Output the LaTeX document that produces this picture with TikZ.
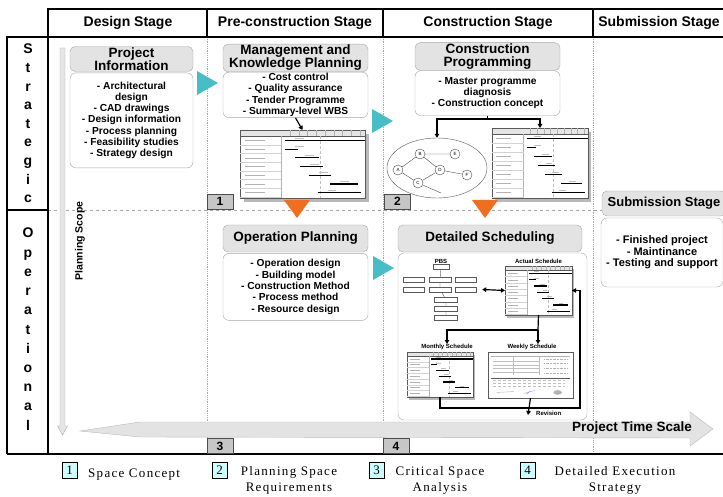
\documentclass[tikz,border=0pt]{standalone}
\usepackage{fontspec}
\setmainfont{Liberation Sans}
\newfontfamily\keyfont[LetterSpace=10]{Liberation Serif}
\usetikzlibrary{arrows.meta,positioning,shapes}
\definecolor{tealtri}{RGB}{70,190,200}
\definecolor{orangetri}{RGB}{240,110,30}
\definecolor{keyfill}{RGB}{205,255,255}

\tikzset{
  gantt/.pic={
    \fill[gray!55] (0.035,0.06) rectangle (1.035,1.06);
    \draw[gray!70!black,fill=white] (0,0) rectangle (1,1);
    \draw[gray!70!black,fill=gray!20] (0,0) rectangle (1,0.09);
    \draw[gray!60] (0.33,0.09) -- (0.33,1);
    \foreach \t in {0.40,0.47,...,0.97} \draw[gray!60] (\t,0) -- (\t,0.09);
    \draw[gray!50,densely dashed] (0.64,0.09) -- (0.64,1);
    \foreach \r/\a/\b in {1/0.36/1,2/0.36/0.46,3/0.44/0.63,4/0.48/0.66,5/0.55/0.73,6/0.72/0.94,7/0.62/0.97}{
      \pgfmathsetmacro\yy{0.09+0.128*(\r-0.5)}
      \draw[gray!35] (0,\yy+0.064) -- (0.33,\yy+0.064);
      \draw[gray!60,line width=0.6pt] (0.04,\yy) -- (0.2,\yy);
      \draw[line width=1.2pt] (\a,\yy) -- (\b,\yy);
      \draw[gray!50] ({\a+0.08},\yy-0.04) -- ({\a+0.15},\yy-0.04);
    }
    \coordinate (-n) at (0.5,0);
    \coordinate (-s) at (0.5,1);
    \coordinate (-w) at (0,0.5);
    \coordinate (-e) at (1,0.5);
  },
  sketch/.pic={
    \draw[gray!70!black,fill=white] (0,0) rectangle (1,1);
    \draw[gray!60] (0.04,0.1) -- (0.96,0.1);
    \foreach \yy in {0.2,0.28,0.36,0.44} \draw[gray!50] (0.06,\yy) -- (0.6,\yy);
    \draw[gray!50] (0.3,0.1) -- (0.3,0.5) (0.6,0.1) -- (0.6,0.5);
    \foreach \yy in {0.15,0.25,0.35,0.45} \draw[gray!60,densely dotted] (0.66,\yy) -- (0.94,\yy);
    \draw[gray!70!black] (0.04,0.56) -- (0.96,0.56);
    \foreach \yy in {0.62,0.68,0.74} \draw[gray!50,densely dashed] (0.06,\yy) -- (0.9,\yy);
    \draw[gray!60] (0.1,0.88) -- (0.3,0.86) (0.42,0.9) -- (0.55,0.84);
    \draw[blue!50] (0.45,0.92) -- (0.5,0.85);
    \fill[gray!60] (0.82,0.88) circle (0.05);
    \coordinate (-n) at (0.5,0);
    \coordinate (-s) at (0.5,1);
  },
  nextarr/.pic={\fill[tealtri] (-10,-12) -- (11,0) -- (-10,12) -- cycle;},
  downarr/.pic={\fill[orangetri] (-13,-9) -- (13,-9) -- (0,9) -- cycle;}
}

\begin{document}
\begin{tikzpicture}[
  x=1pt, y=-1pt,
  frame/.style={line width=1.6pt},
  stage/.style={font=\fontsize{14}{16}\selectfont\bfseries},
  side/.style={anchor=base,font=\fontsize{14}{16}\selectfont\bfseries},
  ttl/.style={rectangle,rounded corners=5pt,draw=gray!70,fill=gray!22,align=center,inner sep=1pt,
    font=\fontsize{13.5}{13}\selectfont\bfseries},
  body/.style={rectangle,rounded corners=6pt,draw=gray!70,fill=white,align=center,inner sep=1pt,
    font=\fontsize{10.2}{11.3}\selectfont\bfseries},
  numbox/.style={rectangle,draw=gray!60!black,fill=gray!45,minimum width=26pt,minimum height=15pt,
    inner sep=0pt,font=\fontsize{12}{12}\selectfont\bfseries},
  keybox/.style={rectangle,draw=black,fill=keyfill,minimum width=15pt,minimum height=16pt,
    inner sep=0pt,font=\keyfont\fontsize{13}{13}\selectfont},
  keytext/.style={align=center,inner sep=0pt,font=\keyfont\fontsize{13}{16}\selectfont},
  netnode/.style={circle,draw=gray!60!black,fill=white,inner sep=0pt,minimum size=10pt,
    font=\fontsize{4.5}{5}\selectfont},
  pbsbox/.style={rectangle,draw=gray!70!black,fill=white,inner sep=0pt,minimum height=5pt},
  tiny/.style={inner sep=0pt,font=\fontsize{6}{7}\selectfont\bfseries},
  arrow/.style={-{Triangle[length=4pt,width=4.5pt]},line width=1.2pt},
  link/.style={line width=1.2pt}
]
\useasboundingbox (0,0) rectangle (723,497);
\clip (0,0) rectangle (723,497);

% grid of the stages
\draw[gray!70,densely dotted,line width=0.8pt] (207,37) -- (207,454) (383,37) -- (383,454) (593,37) -- (593,454);
\draw[gray!70,dashed,line width=0.8pt] (48,210) -- (723,210);
\draw[frame] (48,454) -- (48,9) -- (723,9);
\draw[frame] (7,454) -- (7,37) -- (723,37);
\draw[frame] (7,454) -- (723,454);
\draw[frame] (7,210) -- (48,210);
\draw[frame] (207,9) -- (207,37) (383,9) -- (383,37) (593,9) -- (593,37);

\node[stage] (hdesign) at (128,23) {Design Stage};
\node[stage] (hpre) at (295,23) {Pre-construction Stage};
\node[stage] (hcons) at (488,23) {Construction Stage};
\node[stage] (hsub) at (659,23) {Submission Stage};

\foreach \c [count=\i] in {S,t,r,a,t,e,g,i,c}
  \node[side] (s\i) at (28,{54+18.6*(\i-1)}) {\c};
\foreach \c [count=\i] in {O,p,e,r,a,t,i,o,n,a,l}
  \node[side] (o\i) at (28,{238+19.2*(\i-1)}) {\c};

% scales
\draw[gray!60,fill=gray!20] (60,48) -- (65,48) -- (65,426) -- (67.5,426) -- (62.5,435) -- (57.5,426) -- (60,426) -- cycle;
\node[rotate=90,font=\fontsize{10.5}{12}\selectfont\bfseries] (pscope) at (80,241) {Planning Scope};
\draw[gray!55,fill=gray!22] (80,431) -- (140,422) -- (690,422) -- (690,412) -- (713,429) -- (690,446) -- (690,438) -- (140,437) -- cycle;
\node[font=\fontsize{13.5}{14}\selectfont\bfseries] (tscale) at (632,428) {Project Time Scale};

% strategic level
\node[ttl,minimum width=123pt,minimum height=24pt] (pinfo) at (131.5,59) {Project\\Information};
\node[body,minimum width=123pt,minimum height=95pt,below=1pt of pinfo] (pinfob)
  {- Architectural\\design\\- CAD drawings\\- Design information\\- Process planning\\- Feasibility studies\\- Strategy design};

\node[ttl,minimum width=145pt,minimum height=26pt] (mkp) at (295.5,58) {Management and\\Knowledge Planning};
\node[body,minimum width=145pt,minimum height=44pt,below=0pt of mkp] (mkpb)
  {- Cost control\\- Quality assurance\\- Tender Programme\\- Summary-level WBS};
\pic (g1) [xscale=125,yscale=68] at (240,130) {gantt};

\node[ttl,minimum width=145pt,minimum height=27pt] (cprog) at (487.5,56.5) {Construction\\Programming};
\node[body,minimum width=145pt,minimum height=45pt,below=0pt of cprog] (cprogb)
  {- Master programme\\diagnosis\\- Construction concept};
\node[ellipse,draw=gray!70!black,minimum width=100pt,minimum height=60pt] (net) at (437,168) {};
\node[netnode] (na) at (398,170) {A};
\node[netnode] (nb) at (420,154) {B};
\node[netnode] (ne) at (455,154) {E};
\node[netnode] (nd) at (440,170) {D};
\node[netnode] (nf) at (467,175) {F};
\node[netnode] (nc) at (418,183) {C};
\coordinate (ctail) at (441,193);
\draw[gray!60!black] (na) -- (nb) (nb) -- (ne) (nb) -- (nd) (na) -- (nc) (nc) -- (nd) (nd) -- (nf) (nc) -- (ctail);
\pic (g2) [xscale=96,yscale=70] at (492,128) {gantt};

\coordinate (csplit) at (487.5,119);
\draw[link] (cprogb.south) -- (csplit);
\draw[arrow] (csplit) -| (net.north);
\draw[arrow] (csplit) -| (g2-n);
\draw[arrow] (mkpb.south) -- (g1-n);

% operational level
\node[ttl,minimum width=145pt,minimum height=27pt] (oplan) at (295.5,238.5) {Operation Planning};
\node[body,minimum width=145pt,minimum height=67pt,below=1pt of oplan] (oplanb)
  {- Operation design\\- Building model\\- Construction Method\\- Process method\\- Resource design};

\node[ttl,minimum width=184pt,minimum height=27pt] (dsched) at (490,238.5) {Detailed Scheduling};
\node[body,minimum width=189pt,minimum height=167pt] (dschedb) at (492.5,336.5) {};

% inside detailed scheduling
\node[pbsbox,minimum width=16pt] (pbs) at (441,267) {};
\node[tiny,above=1pt of pbs] (pbsl) {PBS};
\node[pbsbox,minimum width=21pt] (a1) at (413.5,279.5) {};
\node[pbsbox,minimum width=22pt] (a2) at (440,279.5) {};
\node[pbsbox,minimum width=21pt] (a3) at (465.5,279.5) {};
\node[pbsbox,minimum width=21pt] (b1) at (413.5,289.5) {};
\node[pbsbox,minimum width=22pt] (b2) at (440,289.5) {};
\node[pbsbox,minimum width=21pt] (b3) at (465.5,289.5) {};
\node[pbsbox,minimum width=23pt] (c1) at (446,299.5) {};
\node[pbsbox,minimum width=23pt] (c2) at (446,308.5) {};
\node[pbsbox,minimum width=23pt] (c3) at (446,317.5) {};
\draw[gray!70!black] (pbs) -- (a2) (a2) -- (b2) (b2) -- (c1) (c1) -- (c2) (c2) -- (c3);

\pic (act) [xscale=67,yscale=49] at (505,266) {gantt};
\node[tiny,above=2pt of act-n] (actl) {Actual Schedule};
\draw[{Triangle[length=4pt,width=4.5pt]}-{Triangle[length=4pt,width=4.5pt]},line width=1.2pt]
  ([xshift=6pt]b3.east) -- (act-w);

\node[tiny] (monl) at (447,347) {Monthly Schedule};
\node[tiny] (wkl) at (532,347) {Weekly Schedule};
\pic (mon) [xscale=66,yscale=45] at (407,352) {gantt};
\pic (wk) [xscale=85,yscale=46] at (488,352) {sketch};

\coordinate (dsplit) at (538,330);
\draw[link] (act-s) -- (dsplit);
\draw[arrow] (dsplit) -| (monl.north);
\draw[arrow] (dsplit) -- (dsplit |- wkl.north);

\coordinate (rloop) at (580,408);
\draw[arrow] (mon-s) |- (rloop) |- (act-e);
\coordinate (revtip) at (528,415);
\draw[arrow] (wk-s) -- (revtip);
\node[tiny,anchor=west] (revl) at (536,413) {Revision};

% submission
\node[ttl,minimum width=124pt,minimum height=25pt,font=\fontsize{13}{13}\selectfont\bfseries] (subm) at (664,203.5) {Submission Stage};
\node[body,minimum width=122pt,minimum height=69pt,font=\fontsize{11}{11.5}\selectfont\bfseries] (submb) at (662,252.5)
  {- Finished project\\- Maintinance\\- Testing and support};

% stage transitions
\pic (t1) at (207,83) {nextarr};
\pic (t2) at (382,121) {nextarr};
\pic (t3) at (383,268) {nextarr};
\pic (d1) at (297,209) {downarr};
\pic (d2) at (485,209) {downarr};

\node[numbox] (n1) at (220,201.5) {1};
\node[numbox] (n2) at (397.5,201.5) {2};
\node[numbox] (n3) at (220,446) {3};
\node[numbox] (n4) at (396,446) {4};

% key
\node[keybox] (k1) at (69.5,470) {1};
\node[keytext,anchor=base west] (k1t) at (88,477) {Space Concept};
\node[keybox] (k2) at (219.5,470) {2};
\node[keytext,anchor=north] (k2t) at (289,466) {Planning Space\\Requirements};
\node[keybox] (k3) at (376.5,470) {3};
\node[keytext,anchor=north] (k3t) at (440,466) {Critical Space\\Analysis};
\node[keybox] (k4) at (527.5,470) {4};
\node[keytext,anchor=north] (k4t) at (615,466) {Detailed Execution\\Strategy};
\end{tikzpicture}
\end{document}
